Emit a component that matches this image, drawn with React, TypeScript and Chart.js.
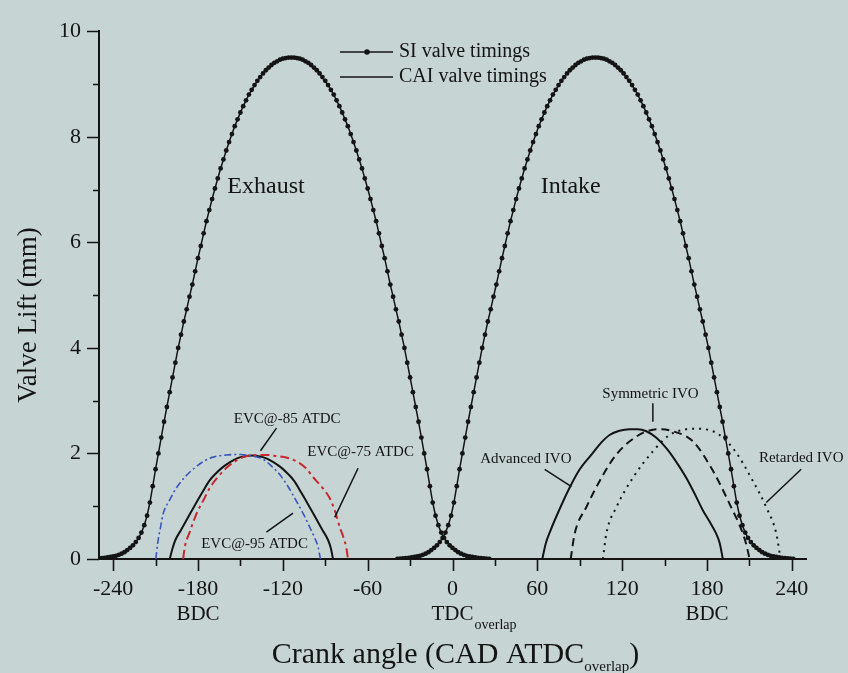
import { useEffect, useRef } from 'react';
import { Chart, registerables } from 'chart.js';

Chart.register(...registerables);

// ---------- data ----------
const X_MAJOR_TICKS = [-240, -180, -120, -60, 0, 60, 120, 180, 240];
const X_MINOR_TICKS = [-210, -150, -90, -30, 30, 90, 150, 210];
const Y_MAJOR_TICKS = [0, 2, 4, 6, 8, 10];
const Y_MINOR_TICKS = [1, 3, 5, 7, 9];
const X_SUB_LABELS = [
  { value: -180, text: 'BDC', sub: '' },
  { value: 0, text: 'TDC', sub: 'overlap' },
  { value: 180, text: 'BDC', sub: '' },
];

// SI valve timings: sampled every 2 CAD
const SI_STEP = 2;
const EXHAUST_SI_START = -250;
const EXHAUST_SI_LIFT = [
  0.01, 0.015, 0.02, 0.03, 0.04, 0.05, 0.06, 0.08, 0.10, 0.13, 0.17, 0.21, 0.26, 0.32, 0.40, 0.50,
  0.64, 0.82, 1.07, 1.38, 1.70, 2.00, 2.30, 2.60, 2.88, 3.16, 3.44, 3.72, 4.00, 4.25, 4.50, 4.73,
  4.97, 5.20, 5.45, 5.70, 5.93, 6.17, 6.40, 6.61, 6.82, 7.02, 7.21, 7.40, 7.57, 7.74, 7.90, 8.05,
  8.20, 8.33, 8.46, 8.58, 8.69, 8.80, 8.89, 8.98, 9.06, 9.13, 9.20, 9.26, 9.31, 9.36, 9.40, 9.43,
  9.46, 9.48, 9.49, 9.50, 9.50,
  9.50, 9.49, 9.48, 9.46, 9.43, 9.40, 9.36, 9.31, 9.26, 9.20, 9.13, 9.06, 8.98, 8.89, 8.80, 8.69,
  8.58, 8.46, 8.33, 8.20, 8.05, 7.90, 7.74, 7.57, 7.40, 7.21, 7.02, 6.82, 6.61, 6.40, 6.17, 5.93,
  5.70, 5.45, 5.20, 4.97, 4.73, 4.50, 4.25, 4.00, 3.72, 3.44, 3.16, 2.88, 2.60, 2.30, 2.00, 1.70,
  1.38, 1.07, 0.82, 0.64, 0.50, 0.40, 0.32, 0.26, 0.21, 0.17, 0.13, 0.10, 0.08, 0.06, 0.05, 0.04,
  0.03, 0.02, 0.015, 0.01, 0.005, 0,
];
const INTAKE_SI_START = -39;
const INTAKE_SI_LIFT = [
  0, 0.005, 0.01, 0.015, 0.02, 0.03, 0.04, 0.05, 0.06, 0.08, 0.10, 0.13, 0.17, 0.21, 0.26, 0.32,
  0.40, 0.50, 0.64, 0.82, 1.07, 1.38, 1.70, 2.00, 2.30, 2.60, 2.88, 3.16, 3.44, 3.72, 4.00, 4.25,
  4.50, 4.73, 4.97, 5.20, 5.45, 5.70, 5.93, 6.17, 6.40, 6.61, 6.82, 7.02, 7.21, 7.40, 7.57, 7.74,
  7.90, 8.05, 8.20, 8.33, 8.46, 8.58, 8.69, 8.80, 8.89, 8.98, 9.06, 9.13, 9.20, 9.26, 9.31, 9.36,
  9.40, 9.43, 9.46, 9.48, 9.49, 9.50, 9.50,
  9.50, 9.49, 9.48, 9.46, 9.43, 9.40, 9.36, 9.31, 9.26, 9.20, 9.13, 9.06, 8.98, 8.89, 8.80, 8.69,
  8.58, 8.46, 8.33, 8.20, 8.05, 7.90, 7.74, 7.57, 7.40, 7.21, 7.02, 6.82, 6.61, 6.40, 6.17, 5.93,
  5.70, 5.45, 5.20, 4.97, 4.73, 4.50, 4.25, 4.00, 3.72, 3.44, 3.16, 2.88, 2.60, 2.30, 2.00, 1.70,
  1.38, 1.07, 0.82, 0.64, 0.50, 0.40, 0.32, 0.26, 0.21, 0.17, 0.13, 0.10, 0.08, 0.06, 0.05, 0.04,
  0.03, 0.02, 0.015, 0.01, 0.005, 0,
];

// CAI valve timings
const EVC85_ANGLE = [-200, -198, -196, -192, -187, -182, -177, -172, -167, -162, -157, -152, -147, -142, -137, -132, -127, -122, -117, -112, -107, -102, -97, -92, -88, -86, -84.5];
const EVC85_LIFT = [0, 0.2, 0.36, 0.55, 0.79, 1.03, 1.26, 1.48, 1.63, 1.75, 1.84, 1.91, 1.945, 1.96, 1.945, 1.91, 1.84, 1.75, 1.63, 1.48, 1.26, 1.03, 0.79, 0.55, 0.36, 0.2, 0];

const EVC95_ANGLE = [-209.8, -208.5, -206.5, -204.6, -200, -195.2, -189, -182.2, -176, -169.3, -160, -150, -142, -133.9, -128, -122.2, -116, -110.5, -105, -100.9, -97.5, -95.1, -93.4];
const EVC95_LIFT = [0, 0.3, 0.6, 0.86, 1.12, 1.35, 1.56, 1.73, 1.85, 1.93, 1.97, 1.98, 1.95, 1.89, 1.76, 1.6, 1.36, 1.1, 0.83, 0.6, 0.4, 0.23, 0];

const EVC75_ANGLE = [-190.5, -189.3, -186, -181, -176, -171.6, -166, -159.8, -154, -148, -138.5, -130, -124.5, -117, -110.4, -104, -98.6, -92, -86.8, -83, -79.7, -77, -75, -73.9];
const EVC75_LIFT = [0, 0.23, 0.5, 0.86, 1.12, 1.35, 1.55, 1.73, 1.85, 1.93, 1.97, 1.97, 1.95, 1.92, 1.85, 1.73, 1.55, 1.35, 1.15, 0.9, 0.6, 0.4, 0.2, 0];

const ADV_IVO_ANGLE = [63.5, 66, 69, 75, 82.8, 90, 99.3, 105, 111.1, 118, 125.3, 131, 137.1, 144, 151.2, 158, 165.3, 171, 177.1, 182, 186.5, 189, 191.2];
const ADV_IVO_LIFT = [0, 0.3, 0.52, 0.9, 1.35, 1.7, 2.01, 2.2, 2.35, 2.43, 2.46, 2.46, 2.42, 2.3, 2.1, 1.85, 1.54, 1.25, 0.92, 0.7, 0.48, 0.3, 0];

const SYM_IVO_ANGLE = [83.6, 86.4, 94.6, 104.1, 115.9, 130, 141.7, 148, 155.9, 170, 184.2, 196, 205.4, 208, 210.1];
const SYM_IVO_LIFT = [0, 0.48, 0.98, 1.48, 1.98, 2.32, 2.45, 2.46, 2.42, 2.23, 1.67, 1.04, 0.48, 0.25, 0];

const RET_IVO_ANGLE = [106.4, 108.8, 115.9, 127.6, 141.7, 153.5, 162, 170, 184.2, 198.3, 212.4, 221.9, 229, 232];
const RET_IVO_LIFT = [0, 0.48, 0.98, 1.54, 2.04, 2.35, 2.44, 2.47, 2.42, 2.10, 1.48, 0.98, 0.48, 0];

// ---------- style ----------
const BG = 'rgb(198,212,212)';
const INK = '#141414';
const SERIF = '"Liberation Serif", "DejaVu Serif", "Times New Roman", serif';

const NOTES = [
  { text: 'Exhaust', x: -131.9, y: 7.06, size: 24, leader: null as null | number[] },
  { text: 'Intake', x: 83.6, y: 7.06, size: 24, leader: null as null | number[] },
  { text: 'EVC@-85 ATDC', x: -116.9, y: 2.65, size: 15, leader: [-124.5, 2.48, -135.8, 2.05] },
  { text: 'EVC@-75 ATDC', x: -65, y: 2.02, size: 15, leader: [-66.8, 1.72, -83.3, 0.79] },
  { text: 'EVC@-95 ATDC', x: -140, y: 0.28, size: 15, leader: [-131.6, 0.51, -112.8, 0.87] },
  { text: 'Symmetric IVO', x: 140, y: 3.13, size: 15, leader: [141.7, 2.95, 141.7, 2.6] },
  { text: 'Advanced IVO', x: 51.9, y: 1.89, size: 15, leader: [65.2, 1.7, 84.1, 1.37] },
  { text: 'Retarded IVO', x: 246.6, y: 1.92, size: 15, leader: [246.6, 1.7, 221.9, 1.07] },
];

function pairs(xs: number[], ys: number[]) {
  return xs.map((x, i) => ({ x, y: ys[i] }));
}
function sampled(start: number, ys: number[]) {
  return ys.map((y, i) => ({ x: start + i * SI_STEP, y }));
}

const decor = {
  id: 'decor',
  beforeDraw(chart: any) {
    const { ctx, width, height } = chart;
    ctx.save();
    ctx.fillStyle = BG;
    ctx.fillRect(0, 0, width, height);
    ctx.restore();
  },
  afterDraw(chart: any) {
    const ctx: CanvasRenderingContext2D = chart.ctx;
    const xs = chart.scales.x;
    const ys = chart.scales.y;
    const a = chart.chartArea;
    ctx.save();
    // tick marks
    ctx.strokeStyle = INK;
    ctx.lineWidth = 1.6;
    ctx.beginPath();
    for (const v of X_MAJOR_TICKS) {
      const p = Math.round(xs.getPixelForValue(v)) + 0.5;
      ctx.moveTo(p, a.bottom);
      ctx.lineTo(p, a.bottom + 12);
    }
    for (const v of X_MINOR_TICKS) {
      const p = Math.round(xs.getPixelForValue(v)) + 0.5;
      ctx.moveTo(p, a.bottom);
      ctx.lineTo(p, a.bottom + 7);
    }
    for (const v of Y_MAJOR_TICKS) {
      const p = Math.round(ys.getPixelForValue(v)) + 0.5;
      ctx.moveTo(a.left, p);
      ctx.lineTo(a.left - 12, p);
    }
    for (const v of Y_MINOR_TICKS) {
      const p = Math.round(ys.getPixelForValue(v)) + 0.5;
      ctx.moveTo(a.left, p);
      ctx.lineTo(a.left - 6, p);
    }
    ctx.stroke();

    ctx.fillStyle = INK;
    // BDC / TDC labels
    ctx.textBaseline = 'alphabetic';
    for (const l of X_SUB_LABELS) {
      const p = xs.getPixelForValue(l.value);
      ctx.font = `21px ${SERIF}`;
      ctx.textAlign = 'center';
      ctx.fillText(l.text, p, a.bottom + 61);
      if (l.sub) {
        const w = ctx.measureText(l.text).width;
        ctx.font = `14px ${SERIF}`;
        ctx.textAlign = 'left';
        ctx.fillText(l.sub, p + w / 2 + 1, a.bottom + 70);
      }
    }

    // x title with subscript
    const main = 'Crank angle (CAD ATDC';
    const sub = 'overlap';
    const close = ')';
    ctx.font = `30px ${SERIF}`;
    const wMain = ctx.measureText(main).width;
    const wClose = ctx.measureText(close).width;
    ctx.font = `15px ${SERIF}`;
    const wSub = ctx.measureText(sub).width;
    let tx = (a.left + a.right) / 2 + 3 - (wMain + wSub + wClose) / 2;
    ctx.textAlign = 'left';
    ctx.font = `30px ${SERIF}`;
    ctx.fillText(main, tx, a.bottom + 104);
    tx += wMain;
    ctx.font = `15px ${SERIF}`;
    ctx.fillText(sub, tx, a.bottom + 112);
    tx += wSub;
    ctx.font = `30px ${SERIF}`;
    ctx.fillText(close, tx, a.bottom + 104);

    // y title
    ctx.save();
    ctx.translate(36, 315);
    ctx.rotate(-Math.PI / 2);
    ctx.font = `27px ${SERIF}`;
    ctx.textAlign = 'center';
    ctx.fillText('Valve Lift (mm)', 0, 0);
    ctx.restore();

    // legend
    ctx.lineWidth = 1.5;
    ctx.beginPath();
    ctx.moveTo(340, 52);
    ctx.lineTo(393, 52);
    ctx.moveTo(340, 77);
    ctx.lineTo(393, 77);
    ctx.stroke();
    ctx.beginPath();
    ctx.arc(367, 52, 2.8, 0, Math.PI * 2);
    ctx.fill();
    ctx.font = `20px ${SERIF}`;
    ctx.textAlign = 'left';
    ctx.textBaseline = 'middle';
    ctx.fillText('SI valve timings', 399, 52);
    ctx.fillText('CAI valve timings', 399, 77);

    // annotations
    ctx.textAlign = 'center';
    ctx.textBaseline = 'middle';
    for (const n of NOTES) {
      ctx.font = `${n.size}px ${SERIF}`;
      ctx.fillText(n.text, xs.getPixelForValue(n.x), ys.getPixelForValue(n.y));
      if (n.leader) {
        ctx.lineWidth = 1.5;
        ctx.beginPath();
        ctx.moveTo(xs.getPixelForValue(n.leader[0]), ys.getPixelForValue(n.leader[1]));
        ctx.lineTo(xs.getPixelForValue(n.leader[2]), ys.getPixelForValue(n.leader[3]));
        ctx.stroke();
      }
    }
    ctx.restore();
  },
};

export default function App() {
  const ref = useRef<HTMLCanvasElement>(null);
  useEffect(() => {
    document.body.style.margin = '0';
    document.body.style.background = BG;
    const cai = { pointRadius: 0, cubicInterpolationMode: 'monotone' as const, fill: false };
    const chart = new Chart(ref.current as HTMLCanvasElement, {
      type: 'line',
      data: {
        datasets: [
          {
            label: 'SI exhaust',
            data: sampled(EXHAUST_SI_START, EXHAUST_SI_LIFT),
            borderColor: INK,
            borderWidth: 1.5,
            pointRadius: 2.4,
            pointBackgroundColor: INK,
            pointBorderWidth: 0,
            tension: 0,
          },
          {
            label: 'SI intake',
            data: sampled(INTAKE_SI_START, INTAKE_SI_LIFT),
            borderColor: INK,
            borderWidth: 1.5,
            pointRadius: 2.4,
            pointBackgroundColor: INK,
            pointBorderWidth: 0,
            tension: 0,
          },
          { label: 'EVC@-95', data: pairs(EVC95_ANGLE, EVC95_LIFT), borderColor: '#3a55c0', borderWidth: 1.6, borderDash: [7, 3, 2, 3], ...cai },
          { label: 'EVC@-75', data: pairs(EVC75_ANGLE, EVC75_LIFT), borderColor: '#c8282d', borderWidth: 2, borderDash: [9, 4, 3, 4], ...cai },
          { label: 'EVC@-85', data: pairs(EVC85_ANGLE, EVC85_LIFT), borderColor: INK, borderWidth: 2, ...cai },
          { label: 'Advanced IVO', data: pairs(ADV_IVO_ANGLE, ADV_IVO_LIFT), borderColor: INK, borderWidth: 2, ...cai },
          { label: 'Symmetric IVO', data: pairs(SYM_IVO_ANGLE, SYM_IVO_LIFT), borderColor: INK, borderWidth: 2, borderDash: [8, 5], ...cai },
          { label: 'Retarded IVO', data: pairs(RET_IVO_ANGLE, RET_IVO_LIFT), borderColor: INK, borderWidth: 2, borderDash: [2, 5], ...cai },
        ],
      },
      options: {
        responsive: false,
        animation: false,
        devicePixelRatio: 1,
        events: [],
        layout: { padding: { left: 0, right: 42, top: 25, bottom: 0 } },
        plugins: { legend: { display: false }, tooltip: { enabled: false } },
        scales: {
          x: {
            type: 'linear',
            min: -250,
            max: 250,
            afterBuildTicks: (s: any) => {
              s.ticks = X_MAJOR_TICKS.map((v) => ({ value: v }));
            },
            afterFit: (s: any) => {
              s.height = 114;
            },
            grid: { display: false, drawTicks: false },
            border: { display: true, color: INK, width: 2 },
            ticks: {
              color: INK,
              padding: 17,
              maxRotation: 0,
              autoSkip: false,
              font: { family: SERIF, size: 22 },
              callback: (v: any) => String(v),
            },
          },
          y: {
            type: 'linear',
            min: 0,
            max: 10,
            afterBuildTicks: (s: any) => {
              s.ticks = Y_MAJOR_TICKS.map((v) => ({ value: v }));
            },
            afterFit: (s: any) => {
              s.width = 99;
            },
            grid: { display: false, drawTicks: false },
            border: { display: true, color: INK, width: 2 },
            ticks: {
              color: INK,
              padding: 18,
              font: { family: SERIF, size: 22 },
              callback: (v: any) => String(v),
            },
          },
        },
      },
      plugins: [decor],
    } as any);
    return () => chart.destroy();
  }, []);
  return (
    <div style={{ width: 848, height: 673, background: BG }}>
      <canvas ref={ref} width={848} height={673} style={{ display: 'block' }} />
    </div>
  );
}
